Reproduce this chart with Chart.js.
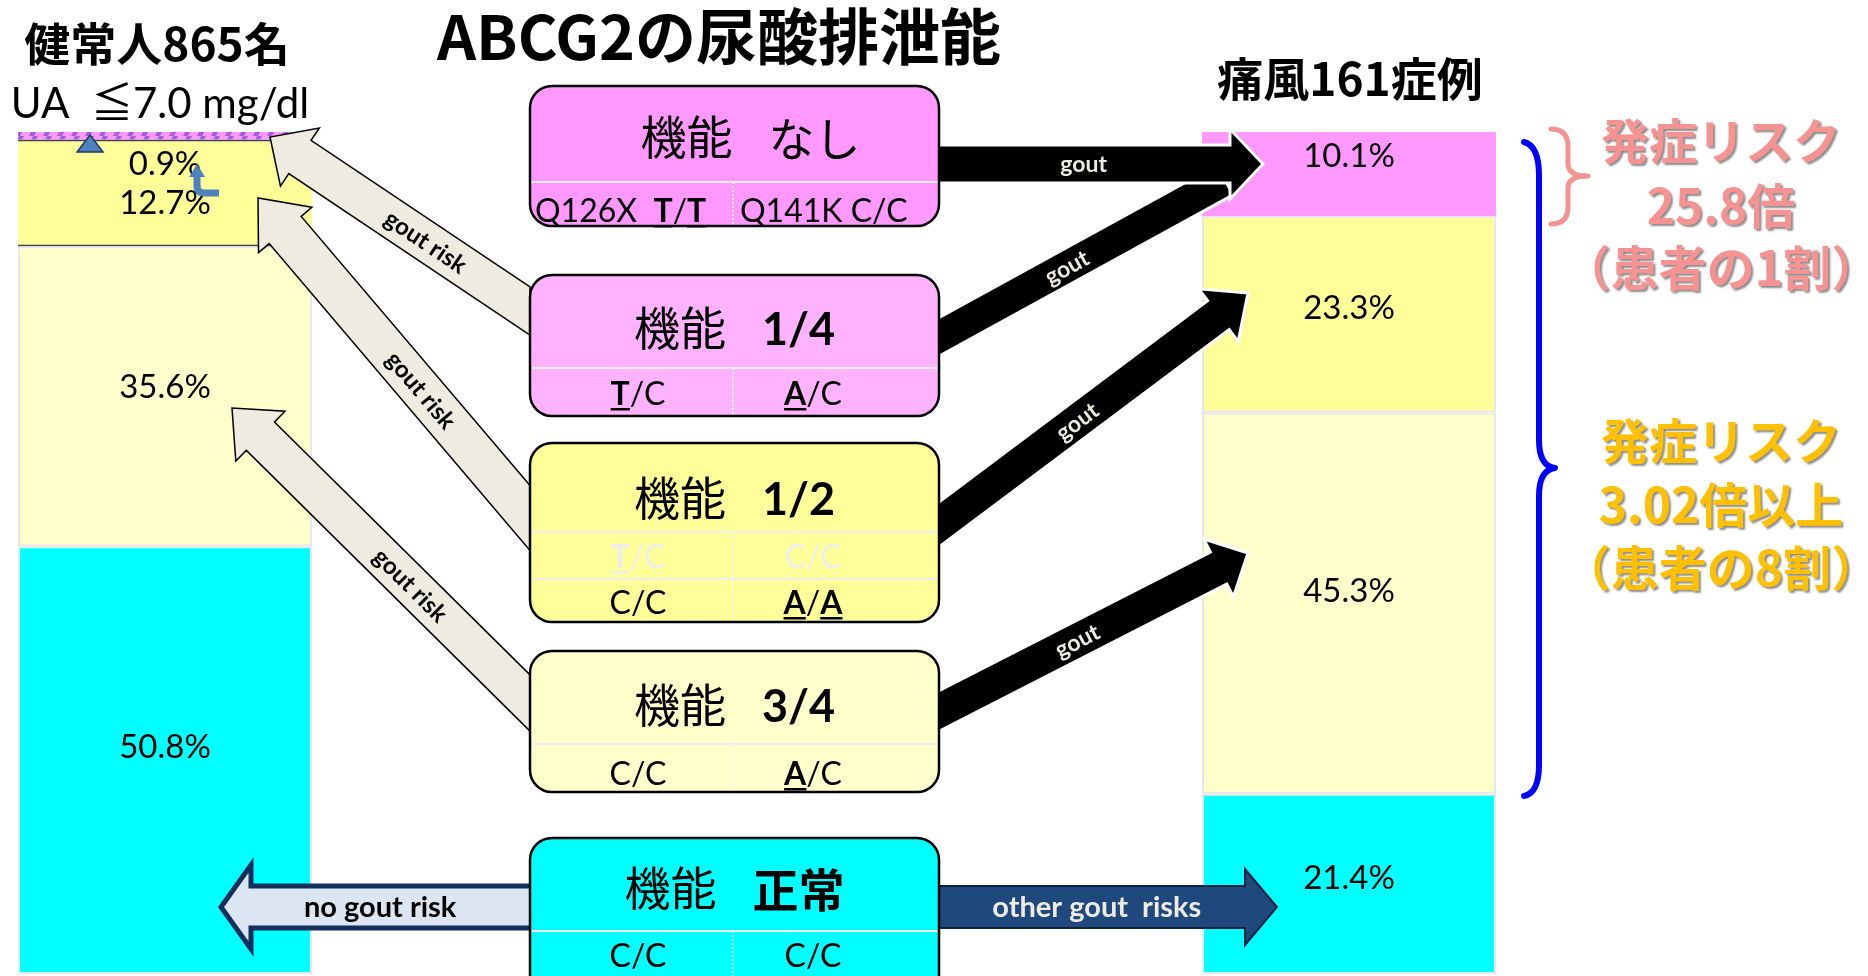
<!DOCTYPE html>
<html lang="ja">
<head>
<meta charset="utf-8">
<title>ABCG2の尿酸排泄能</title>
<script src="https://cdn.jsdelivr.net/npm/chart.js@4.4.1/dist/chart.umd.min.js"></script>
<style>
    html, body { margin: 0; padding: 0; background: #ffffff; overflow: hidden; }
    #wrap { width: 1868px; height: 976px; }
</style>
</head>
<body>
<div id="wrap"><canvas id="abcg2Chart" width="1868" height="976"></canvas></div>
<script>
/** --------------------DATA-------------------- */

const chartTitle = 'ABCG2の尿酸排泄能';
const cohorts = ['健常人865名', '痛風161症例'];
const cohortNote = 'UA  ≦7.0 mg/dl';

// stacked from the bottom up
const segmentNames = ['機能 正常', '機能 3/4', '機能 1/2', '機能 なし・1/4'];
const healthyPercent = [50.8, 35.6, 12.7, 0.9];
const goutPercent = [21.4, 45.3, 23.3, 10.1];

const functionLevels = ['なし', '1/4', '1/2', '3/4', '正常'];
// _X_ = bold + underlined allele
const genotypeRows = [
    [['Q126X  _T_/_T_', 'Q141K C/C']],
    [['_T_/C', '_A_/C']],
    [['_T_/C', 'C/C'], ['C/C', '_A_/_A_']],
    [['C/C', '_A_/C']],
    [['C/C', 'C/C']]
];

const riskNotes = [
    ['発症リスク', '25.8倍', '（患者の1割）'],
    ['発症リスク', '3.02倍以上', '（患者の8割）']
];
const toHealthyLabel = 'gout risk';
const toGoutLabel = 'gout';
const noRiskLabel = 'no gout risk';
const otherRiskLabel = 'other gout  risks';

/** --------------------STYLE / LAYOUT-------------------- */

const CJK = '"Noto Sans CJK JP"';
const segmentColors = ['#00ffff', '#ffffcc', '#ffff99', '#ff99ff'];
const boxFills = ['#ff99ff', '#ffb3ff', '#ffff99', '#ffffcc', '#00ffff'];
const boxX = 530, boxW = 409, colSplit = 733;
const boxLayout = [
    {top: 86, bottom: 226, titleY: 137, titleDx: 16, divY: [182], rowY: [222]},
    {top: 275, bottom: 416, titleY: 328, titleDx: 0, divY: [368], rowY: [405]},
    {top: 443, bottom: 622, titleY: 498, titleDx: 0, divY: [532, 579], rowY: [568, 614]},
    {top: 651, bottom: 792, titleY: 705, titleDx: 0, divY: [744], rowY: [785]},
    {top: 838, bottom: 1010, titleY: 888, titleDx: 0, divY: [931], rowY: [967]}
];

function makeStripe() {
    const c = document.createElement('canvas');
    c.width = 14;
    c.height = 8;
    const p = c.getContext('2d');
    p.fillStyle = '#ff99ff';
    p.fillRect(0, 0, 14, 8);
    p.fillStyle = '#a45ee5';
    p.beginPath();
    p.moveTo(1, 8);
    p.lineTo(5, 0);
    p.lineTo(10, 0);
    p.lineTo(6, 8);
    p.closePath();
    p.fill();
    return p.createPattern(c, 'repeat');
}

/** --------------------DRAW HELPERS-------------------- */

function roundedRect(ctx, x, y, w, h, r) {
    ctx.beginPath();
    ctx.moveTo(x + r, y);
    ctx.arcTo(x + w, y, x + w, y + h, r);
    ctx.arcTo(x + w, y + h, x, y + h, r);
    ctx.arcTo(x, y + h, x, y, r);
    ctx.arcTo(x, y, x + w, y, r);
    ctx.closePath();
}

// block arrow, tail cut vertically at the box edge
function arrowPath(ctx, tail, tip, w, hw, hl) {
    const dx = tip[0] - tail[0], dy = tip[1] - tail[1];
    const len = Math.hypot(dx, dy);
    const ux = dx / len, uy = dy / len;
    const nx = -uy, ny = ux;
    const neck = [tip[0] - ux * hl, tip[1] - uy * hl];
    const tailPt = (h) => {
        const t = -nx * h / ux;
        return [tail[0], tail[1] + ny * h + uy * t];
    };
    const pts = [
        tailPt(w / 2),
        [neck[0] + nx * w / 2, neck[1] + ny * w / 2],
        [neck[0] + nx * hw / 2, neck[1] + ny * hw / 2],
        tip,
        [neck[0] - nx * hw / 2, neck[1] - ny * hw / 2],
        [neck[0] - nx * w / 2, neck[1] - ny * w / 2],
        tailPt(-w / 2)
    ];
    ctx.beginPath();
    pts.forEach((p, i) => i === 0 ? ctx.moveTo(p[0], p[1]) : ctx.lineTo(p[0], p[1]));
    ctx.closePath();
}

function drawArrow(ctx, a, fill, stroke, lw) {
    ctx.save();
    arrowPath(ctx, a.tail, a.tip, a.w, a.hw, a.hl);
    ctx.fillStyle = fill;
    ctx.fill();
    ctx.lineJoin = 'miter';
    ctx.lineWidth = lw;
    ctx.strokeStyle = stroke;
    ctx.stroke();
    ctx.restore();
}

function drawArrowLabel(ctx, a, t, text, font, color) {
    const x = a.tail[0] + (a.tip[0] - a.tail[0]) * t;
    const y = a.tail[1] + (a.tip[1] - a.tail[1]) * t;
    let ang = Math.atan2(a.tip[1] - a.tail[1], a.tip[0] - a.tail[0]);
    if (ang > Math.PI / 2) ang -= Math.PI;
    if (ang < -Math.PI / 2) ang += Math.PI;
    ctx.save();
    ctx.translate(x, y);
    ctx.rotate(ang);
    ctx.font = font;
    ctx.fillStyle = color;
    ctx.textAlign = 'center';
    ctx.textBaseline = 'middle';
    ctx.fillText(text, 0, 1);
    ctx.restore();
}

function drawGenotype(ctx, text, x, y, color, alignLeft) {
    const parts = text.split('_');
    const fontOf = (k) => (k % 2 ? 'bold ' : '') + '32px Lato';
    let total = 0;
    const widths = parts.map((p, k) => {
        ctx.font = fontOf(k);
        const w = ctx.measureText(p).width;
        total += w;
        return w;
    });
    let cx = alignLeft ? x : x - total / 2;
    ctx.textAlign = 'left';
    ctx.textBaseline = 'alphabetic';
    ctx.fillStyle = color;
    parts.forEach((p, k) => {
        ctx.font = fontOf(k);
        ctx.fillText(p, cx, y);
        if (k % 2) ctx.fillRect(cx, y + 3, widths[k], 2.5);
        cx += widths[k];
    });
}

function drawBoxTitle(ctx, cx, cy, value) {
    const headFont = '46px ' + CJK;
    let valueFont;
    if (/\d/.test(value)) {
        valueFont = 'bold 45px Lato';
    } else if (value === 'なし') {
        valueFont = '46px ' + CJK;
    } else {
        valueFont = 'bold 46px ' + CJK;
    }
    ctx.font = headFont;
    const w1 = ctx.measureText('機能').width;
    ctx.font = valueFont;
    const w2 = ctx.measureText(value).width;
    const gap = 36;
    const x0 = cx - (w1 + gap + w2) / 2;
    ctx.textAlign = 'left';
    ctx.textBaseline = 'middle';
    ctx.fillStyle = '#000000';
    ctx.font = headFont;
    ctx.fillText('機能', x0, cy);
    ctx.font = valueFont;
    ctx.fillText(value, x0 + w1 + gap, cy + 2);
}

function drawBoxes(ctx) {
    boxLayout.forEach((L, i) => {
        ctx.save();
        roundedRect(ctx, boxX, L.top, boxW, L.bottom - L.top, 22);
        ctx.fillStyle = boxFills[i];
        ctx.fill();
        ctx.save();
        ctx.clip();
        ctx.strokeStyle = '#eeeeee';
        ctx.lineWidth = 2;
        L.divY.forEach(y => {
            ctx.beginPath();
            ctx.moveTo(boxX, y);
            ctx.lineTo(boxX + boxW, y);
            ctx.stroke();
        });
        ctx.setLineDash([2, 2]);
        ctx.strokeStyle = '#ffffff';
        ctx.lineWidth = 1.5;
        ctx.beginPath();
        ctx.moveTo(colSplit, L.divY[0]);
        ctx.lineTo(colSplit, L.bottom);
        ctx.stroke();
        ctx.restore();

        roundedRect(ctx, boxX, L.top, boxW, L.bottom - L.top, 22);
        ctx.lineWidth = 2.5;
        ctx.strokeStyle = '#000000';
        ctx.stroke();

        drawBoxTitle(ctx, boxX + boxW / 2 + L.titleDx, L.titleY, functionLevels[i]);

        const rows = genotypeRows[i];
        rows.forEach((row, r) => {
            const faded = rows.length > 1 && r === 0;
            const color = faded ? '#eeeeee' : '#000000';
            if (row[0].length > 8) {
                drawGenotype(ctx, row[0], boxX + 5, L.rowY[r], color, true);
                drawGenotype(ctx, row[1], colSplit + 7, L.rowY[r], color, true);
            } else {
                drawGenotype(ctx, row[0], 638, L.rowY[r], color, false);
                drawGenotype(ctx, row[1], 813, L.rowY[r], color, false);
            }
        });
        ctx.restore();
    });
}

function drawSegmentLabels(chart) {
    const ctx = chart.ctx;
    const sets = chart.data.datasets;
    ctx.save();
    ctx.font = '33px Lato';
    ctx.fillStyle = '#000000';
    ctx.textAlign = 'center';
    ctx.textBaseline = 'middle';
    [0, 4].forEach(idx => {
        for (let d = 0; d < sets.length; d++) {
            const value = sets[d].data[idx];
            if (value < 3) continue;
            const bar = chart.getDatasetMeta(d).data[idx];
            const h = bar.base - bar.y;
            const above = d + 1 < sets.length ? sets[d + 1].data[idx] : null;
            let y = bar.y + h * (h < 120 ? 0.3 : 0.47);
            if (above !== null && above < 3) {
                y = bar.y + h * 0.6;
                ctx.fillText(above.toFixed(1) + '%', bar.x, bar.y + 25);
            }
            ctx.fillText(value.toFixed(1) + '%', bar.x, y);
        }
    });
    ctx.restore();
}

function drawMarkers(ctx) {
    ctx.save();
    // triangle on the top stripe
    ctx.beginPath();
    ctx.moveTo(90, 135);
    ctx.lineTo(103, 152);
    ctx.lineTo(77, 152);
    ctx.closePath();
    ctx.fillStyle = '#4f81bd';
    ctx.fill();
    ctx.lineWidth = 1.5;
    ctx.strokeStyle = '#1f3864';
    ctx.stroke();
    // small hook arrow
    ctx.strokeStyle = '#4f81bd';
    ctx.lineWidth = 7;
    ctx.beginPath();
    ctx.moveTo(219, 193);
    ctx.lineTo(204, 193);
    ctx.quadraticCurveTo(197, 193, 197, 185);
    ctx.lineTo(197, 175);
    ctx.stroke();
    ctx.beginPath();
    ctx.moveTo(189, 177);
    ctx.lineTo(197, 164);
    ctx.lineTo(205, 177);
    ctx.closePath();
    ctx.fillStyle = '#4f81bd';
    ctx.fill();
    ctx.restore();
}

function drawArrows(ctx) {
    const gray = [
        {tail: [530, 311], tip: [270, 137], w: 40, hw: 70, hl: 36},
        {tail: [530, 518], tip: [258, 198], w: 42, hw: 70, hl: 42},
        {tail: [530, 703], tip: [232, 408], w: 40, hw: 70, hl: 40}
    ];
    gray.forEach(a => {
        drawArrow(ctx, a, '#eeece1', '#000000', 1.5);
        drawArrowLabel(ctx, a, 0.4, toHealthyLabel, 'bold 24px Lato', '#000000');
    });

    const black = [
        {tail: [937, 338], tip: [1225, 180], w: 34, hw: 34, hl: 0},
        {tail: [937, 164], tip: [1263, 164], w: 38, hw: 70, hl: 33},
        {tail: [937, 526], tip: [1248, 293], w: 36, hw: 66, hl: 37},
        {tail: [937, 712], tip: [1248, 553], w: 36, hw: 65, hl: 33}
    ];
    black.forEach(a => {
        drawArrow(ctx, a, '#000000', '#ffffff', 3);
    });
    black.forEach(a => {
        drawArrowLabel(ctx, a, 0.45, toGoutLabel, 'bold 23px Lato', '#eeece1');
    });

    const noRisk = {tail: [533, 907], tip: [221, 907], w: 42, hw: 84, hl: 30};
    drawArrow(ctx, noRisk, '#dce6f2', '#132f5e', 5);
    drawArrowLabel(ctx, noRisk, 0.49, noRiskLabel, 'bold 29px Lato', '#000000');

    const other = {tail: [937, 907], tip: [1277, 907], w: 42, hw: 76, hl: 32};
    drawArrow(ctx, other, '#1f497d', '#0d2240', 2);
    drawArrowLabel(ctx, other, 0.47, otherRiskLabel, 'bold 29px Lato', '#eeece1');
}

function drawHeadings(chart) {
    const ctx = chart.ctx;
    const xs = chart.scales.x;
    const leftX = xs.getPixelForValue(0);
    const rightX = xs.getPixelForValue(4);
    ctx.save();
    ctx.fillStyle = '#000000';
    ctx.textAlign = 'center';
    ctx.textBaseline = 'middle';
    ctx.font = 'bold 46px ' + CJK;
    ctx.fillText(cohorts[0], leftX - 8, 44);
    ctx.fillText(cohorts[1], rightX + 1, 79);
    ctx.font = '42px Lato, ' + CJK;
    ctx.textBaseline = 'alphabetic';
    ctx.fillText(cohortNote, leftX - 5, 118);
    ctx.font = 'bold 61px ' + CJK;
    ctx.textBaseline = 'middle';
    ctx.fillText(chartTitle, 719, 37);
    ctx.restore();
}

function drawRiskNotes(ctx) {
    ctx.save();
    // braces
    ctx.lineCap = 'round';
    ctx.lineJoin = 'round';
    ctx.strokeStyle = '#f59393';
    ctx.lineWidth = 5;
    ctx.beginPath();
    ctx.moveTo(1551, 129);
    ctx.quadraticCurveTo(1568, 129, 1568, 146);
    ctx.lineTo(1568, 164);
    ctx.quadraticCurveTo(1568, 176, 1588, 176);
    ctx.quadraticCurveTo(1568, 176, 1568, 188);
    ctx.lineTo(1568, 207);
    ctx.quadraticCurveTo(1568, 224, 1551, 224);
    ctx.stroke();

    ctx.strokeStyle = '#0000ff';
    ctx.lineWidth = 6;
    ctx.beginPath();
    ctx.moveTo(1524, 142);
    ctx.quadraticCurveTo(1539, 146, 1539, 175);
    ctx.lineTo(1539, 440);
    ctx.quadraticCurveTo(1539, 466, 1555, 468);
    ctx.quadraticCurveTo(1539, 470, 1539, 496);
    ctx.lineTo(1539, 765);
    ctx.quadraticCurveTo(1539, 793, 1524, 796);
    ctx.stroke();

    // texts with drop shadow
    ctx.textAlign = 'center';
    ctx.textBaseline = 'middle';
    ctx.font = 'bold 48px ' + CJK;
    ctx.shadowColor = 'rgba(0, 0, 0, 0.45)';
    ctx.shadowOffsetX = 2;
    ctx.shadowOffsetY = 2;
    ctx.shadowBlur = 2;
    const noteColors = ['#f59393', '#ffc000'];
    const noteY = [[141, 206, 268], [441, 505, 568]];
    riskNotes.forEach((lines, n) => {
        ctx.fillStyle = noteColors[n];
        lines.forEach((line, k) => ctx.fillText(line, 1721, noteY[n][k]));
    });
    ctx.restore();
}

/** --------------------CHART-------------------- */

const stripe = makeStripe();
const slotLabels = [cohorts[0], '', '', '', cohorts[1]];

const datasets = segmentNames.map((name, i) => ({
    label: name,
    data: [healthyPercent[i], null, null, null, goutPercent[i]],
    backgroundColor: i === 3 ? [stripe, null, null, null, segmentColors[i]] : segmentColors[i],
    borderColor: i === 2 ? ['#404040', null, null, null, '#e6e6e6'] : '#e6e6e6',
    borderWidth: (c) => (i === 2 && c.dataIndex === 0) ? {top: 2, bottom: 2, left: 0, right: 0} : (i === 3 ? 0 : 2),
    borderSkipped: false
}));

const infoPlugin = {
    id: 'abcg2Info',
    afterDatasetsDraw(chart) {
        const ctx = chart.ctx;
        drawSegmentLabels(chart);
        drawMarkers(ctx);
        drawArrows(ctx);
        drawBoxes(ctx);
        drawHeadings(chart);
        drawRiskNotes(ctx);
    }
};

const ctx = document.getElementById('abcg2Chart').getContext('2d');
const abcg2Chart = new Chart(ctx, {
    type: 'bar',
    data: {
        labels: slotLabels,
        datasets: datasets
    },
    options: {
        responsive: false,
        animation: false,
        layout: {
            padding: {left: 17, right: 371, top: 132, bottom: 2}
        },
        datasets: {
            bar: {barPercentage: 1, categoryPercentage: 0.993}
        },
        plugins: {
            legend: {display: false},
            tooltip: {enabled: false},
            title: {display: false}
        },
        scales: {
            x: {stacked: true, display: false, grid: {display: false}},
            y: {stacked: true, display: false, min: 0, max: 100, grid: {display: false}}
        }
    },
    plugins: [infoPlugin]
});
</script>
</body>
</html>
